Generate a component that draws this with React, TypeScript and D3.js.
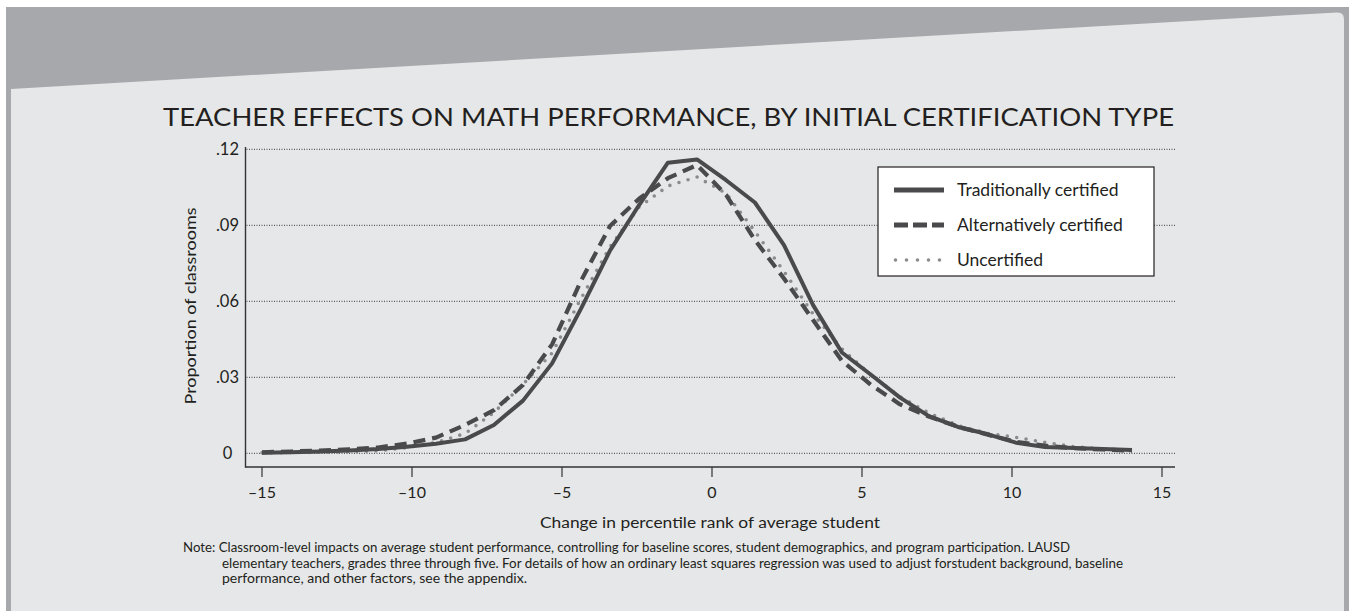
import React from "react";
import * as d3 from "d3";

const xValues = [-15, -14.03, -13.07, -12.1, -11.13, -10.17, -9.2, -8.23, -7.27, -6.3, -5.33, -4.37, -3.4, -2.43, -1.47, -0.5, 0.47, 1.43, 2.4, 3.37, 4.33, 5.3, 6.27, 7.23, 8.2, 9.17, 10.13, 11.1, 12.07, 13.03, 14];

const traditional = [0.0002, 0.0004, 0.0007, 0.0011, 0.0017, 0.0026, 0.0038, 0.0055, 0.0112, 0.0208, 0.0355, 0.057, 0.08, 0.098, 0.1147, 0.116, 0.1078, 0.099, 0.0822, 0.0585, 0.0398, 0.031, 0.022, 0.0147, 0.0104, 0.0076, 0.0042, 0.0025, 0.0021, 0.0017, 0.0013];

const alternative = [0.0004, 0.0007, 0.0011, 0.0016, 0.0023, 0.0038, 0.0062, 0.0112, 0.017, 0.027, 0.043, 0.068, 0.0897, 0.1005, 0.1086, 0.1138, 0.102, 0.0842, 0.069, 0.0526, 0.0365, 0.027, 0.0193, 0.0145, 0.0105, 0.0074, 0.0045, 0.003, 0.002, 0.0015, 0.001];

const uncertified = [0.0002, 0.0003, 0.0004, 0.0006, 0.001, 0.0022, 0.0043, 0.0078, 0.0161, 0.0272, 0.0396, 0.061, 0.0815, 0.0972, 0.1055, 0.1091, 0.1026, 0.0876, 0.0718, 0.055, 0.0412, 0.0309, 0.0223, 0.0159, 0.011, 0.0079, 0.0063, 0.0043, 0.0026, 0.0017, 0.001];

const xTicks = [-15, -10, -5, 0, 5, 10, 15];
const xTickLabels = ["–15", "–10", "–5", "0", "5", "10", "15"];
const yTicks = [0, 0.03, 0.06, 0.09, 0.12];
const yTickLabels = ["0", ".03", ".06", ".09", ".12"];

const seriesNames = ["Traditionally certified", "Alternatively certified", "Uncertified"];

const title = "TEACHER EFFECTS ON MATH PERFORMANCE, BY INITIAL CERTIFICATION TYPE";
const xTitle = "Change in percentile rank of average student";
const yTitle = "Proportion of classrooms";
const noteLines = [
  "Note: Classroom-level impacts on average student performance, controlling for baseline scores, student demographics, and program participation. LAUSD",
  "elementary teachers, grades three through five. For details of how an ordinary least squares regression was used to adjust forstudent background, baseline",
  "performance, and other factors, see the appendix.",
];
const noteWidths = [887, 901, 305];

const FONT = "Lato, 'Open Sans', sans-serif";
const INK = "#231f20";
const DARK = "#4a4a4c";
const DOT = "#8b8b8d";

export default function App() {
  const W = 1349, H = 611;
  const x = d3.scaleLinear().domain([-15, 15]).range([262, 1162]);
  const y = d3.scaleLinear().domain([0, 0.12]).range([453.3, 149.3]);
  const plotLeft = 245.5, plotRight = 1175, axisY = 467;

  const line = d3
    .line<number>()
    .x((_, i) => x(xValues[i]))
    .y((d) => y(d));

  const styles = [
    { stroke: DARK, width: 4, dash: undefined as string | undefined, cap: "butt" },
    { stroke: DARK, width: 4.2, dash: "12 7", cap: "butt" },
    { stroke: DOT, width: 3.6, dash: "0 9.5", cap: "round" },
  ];
  const data = [traditional, alternative, uncertified];

  return (
    <svg width={W} height={H} style={{ position: "absolute", left: 0, top: 0 }} xmlns="http://www.w3.org/2000/svg">
      <rect x={0} y={0} width={W} height={H} fill="#ffffff" />
      <rect x={6} y={7} width={W - 6} height={H - 7} fill="#a7a8ab" />
      <path d="M11,89 L1337,12.4 Q1344,12 1344,19 L1344,611 L11,611 Z" fill="#e6e7e8" />

      <text x={668.5} y={126} textAnchor="middle" fontFamily={FONT} fontSize={25} fill={INK} textLength={1011} lengthAdjust="spacingAndGlyphs">
        {title}
      </text>

      {/* gridlines */}
      {yTicks.map((t) => (
        <line key={"g" + t} x1={plotLeft + 1} x2={plotRight} y1={y(t)} y2={y(t)} stroke="#3a3a3a" strokeWidth={1} strokeDasharray="1 1.5" />
      ))}

      {/* axes */}
      <line x1={plotLeft} x2={plotLeft} y1={147} y2={axisY + 0.7} stroke="#333" strokeWidth={1.4} />
      <line x1={plotLeft} x2={plotRight} y1={axisY} y2={axisY} stroke="#333" strokeWidth={1.4} />
      {xTicks.map((t, i) => (
        <g key={"xt" + t}>
          <line x1={x(t)} x2={x(t)} y1={axisY} y2={477} stroke="#333" strokeWidth={1.2} />
          <text x={x(t)} y={497.5} textAnchor="middle" fontFamily={FONT} fontSize={16} fill={INK}>
            {xTickLabels[i]}
          </text>
        </g>
      ))}
      {yTicks.map((t, i) => (
        <text key={"yt" + t} x={227.5} y={y(t) + 6} textAnchor="middle" fontFamily={FONT} fontSize={16.5} fill={INK}>
          {yTickLabels[i]}
        </text>
      ))}

      <text x={710} y={528} textAnchor="middle" fontFamily={FONT} fontSize={15.5} fill={INK} textLength={340} lengthAdjust="spacingAndGlyphs">
        {xTitle}
      </text>
      <text transform="translate(196,306) rotate(-90)" textAnchor="middle" fontFamily={FONT} fontSize={16} fill={INK} textLength={197} lengthAdjust="spacingAndGlyphs">
        {yTitle}
      </text>

      {/* series */}
      {data.map((s, i) => (
        <path
          key={"s" + i}
          d={line(s) || ""}
          fill="none"
          stroke={styles[i].stroke}
          strokeWidth={styles[i].width}
          strokeDasharray={styles[i].dash}
          strokeLinecap={styles[i].cap as any}
          strokeLinejoin="round"
        />
      )).reverse()}

      {/* legend */}
      <rect x={878} y={167} width={276} height={109} fill="#ffffff" stroke={INK} strokeWidth={1.2} />
      {seriesNames.map((name, i) => {
        const cy = 190 + i * 35;
        return (
          <g key={"l" + i}>
            <line
              x1={i === 2 ? 895.5 : 894}
              x2={i === 2 ? 941 : 944}
              y1={cy}
              y2={cy}
              stroke={styles[i].stroke}
              strokeWidth={i === 2 ? 3.6 : 5}
              strokeDasharray={i === 0 ? undefined : i === 1 ? "14 5" : "0 11"}
              strokeLinecap={i === 2 ? "round" : "butt"}
            />
            <text x={957} y={cy + 6} fontFamily={FONT} fontSize={17.5} fill={INK}>
              {name}
            </text>
          </g>
        );
      })}

      {/* note */}
      {noteLines.map((ln, i) => (
        <text key={"n" + i} x={i === 0 ? 183 : 222} y={552 + i * 15.5} fontFamily={FONT} fontSize={12.5} fill={INK} textLength={noteWidths[i]} lengthAdjust="spacingAndGlyphs">
          {ln}
        </text>
      ))}
    </svg>
  );
}
